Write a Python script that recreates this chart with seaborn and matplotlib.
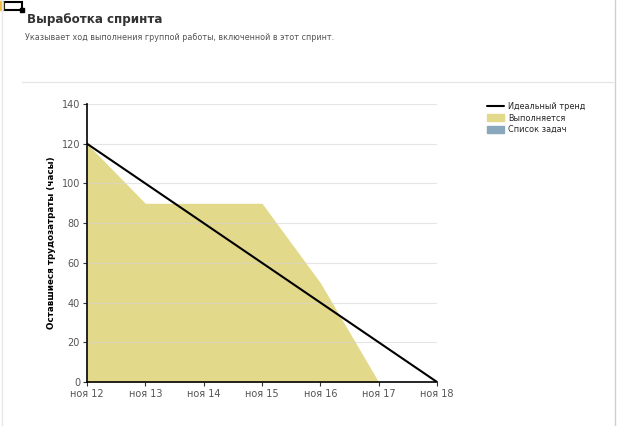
import matplotlib
matplotlib.use("Agg")
import matplotlib.pyplot as plt
import matplotlib.lines as mlines
import matplotlib.patches as mpatches
import seaborn as sns
import pandas as pd

# Data
days = [12, 13, 14, 15, 16, 17, 18]
tick_labels = ["ноя 12", "ноя 13", "ноя 14", "ноя 15", "ноя 16", "ноя 17", "ноя 18"]
in_progress = [120, 90, 90, 90, 50, 0, 0]
ideal_trend = [120, 100, 80, 60, 40, 20, 0]
y_ticks = [0, 20, 40, 60, 80, 100, 120, 140]

title = "Выработка спринта"
subtitle = "Указывает ход выполнения группой работы, включенной в этот спринт."
y_label = "Оставшиеся трудозатраты (часы)"
legend_labels = ["Идеальный тренд", "Выполняется", "Список задач"]

fill_color = "#e3d98b"
task_color = "#8aa8bc"

sns.set_theme(style="white")
plt.rcParams['font.family'] = ['DejaVu Sans']

df = pd.DataFrame({"day": days, "progress": in_progress, "ideal": ideal_trend})

fig = plt.figure(figsize=(6.2, 4.26), dpi=100)
ax = fig.add_axes([87/620, 1 - 382/426, 350/620, 278/426])

ax.fill_between(df["day"], 0, df["progress"], color=fill_color, linewidth=0, zorder=1)
for yv in y_ticks[1:]:
    ax.axhline(yv, color="#d4d4d4", linewidth=0.8, zorder=1.5, alpha=0.6)
sns.lineplot(data=df, x="day", y="ideal", color="black", linewidth=1.5, ax=ax, zorder=3)

ax.set_xlim(12, 18)
ax.set_ylim(0, 140)
ax.set_xticks(days)
ax.set_xticklabels(tick_labels)
ax.set_yticks(y_ticks)
ax.tick_params(axis="both", labelsize=7, colors="#333333", length=3, width=0.8,
               direction="out", pad=2)
for lbl in ax.get_xticklabels() + ax.get_yticklabels():
    lbl.set_color("#555555")
ax.tick_params(axis="x", bottom=True)
ax.tick_params(axis="y", left=True)
ax.set_xlabel("")
ax.set_ylabel(y_label, fontsize=6.3, fontweight="bold", color="black", labelpad=4)
for side in ["top", "right"]:
    ax.spines[side].set_visible(False)
for side in ["left", "bottom"]:
    ax.spines[side].set_color("black")
    ax.spines[side].set_linewidth(1.2)
ax.grid(False)

handles = [
    mlines.Line2D([], [], color="black", linewidth=1.5),
    mpatches.Patch(color=fill_color),
    mpatches.Patch(color=task_color),
]
fig.legend(handles, legend_labels, loc="upper left", bbox_to_anchor=(483/620, 1 - 98/426),
           frameon=False, fontsize=5.9, handlelength=2.1, handleheight=0.9,
           labelspacing=0.3, handletextpad=0.45, borderpad=0)

fig.text(27/620, 1 - 19/426, title, fontsize=8.6, fontweight="bold", color="#333333", va="center")
fig.text(25/620, 1 - 37/426, subtitle, fontsize=5.8, color="#555555", va="center")

# Page decorations
fig.add_artist(mlines.Line2D([22/620, 613/620], [1 - 82/426, 1 - 82/426],
                             color="#e6e6e6", linewidth=1, transform=fig.transFigure))
fig.add_artist(mlines.Line2D([615/620, 615/620], [0, 1],
                             color="#cfcfcf", linewidth=1, transform=fig.transFigure))
fig.add_artist(mlines.Line2D([2/620, 2/620], [0, 1],
                             color="#e8e8e8", linewidth=1, transform=fig.transFigure))
fig.add_artist(mpatches.Rectangle((4/620, 1 - 10/426), 18/620, 8/426, fill=False,
                                  edgecolor="black", linewidth=1.5, transform=fig.transFigure))
fig.add_artist(mpatches.Rectangle((20/620, 1 - 12/426), 4/620, 4/426, color="black",
                                  transform=fig.transFigure))
fig.add_artist(mpatches.Rectangle((0, 1 - 10/426), 3/620, 9/426, color="#f0c040",
                                  transform=fig.transFigure))

fig.savefig("out.png", dpi=100)
